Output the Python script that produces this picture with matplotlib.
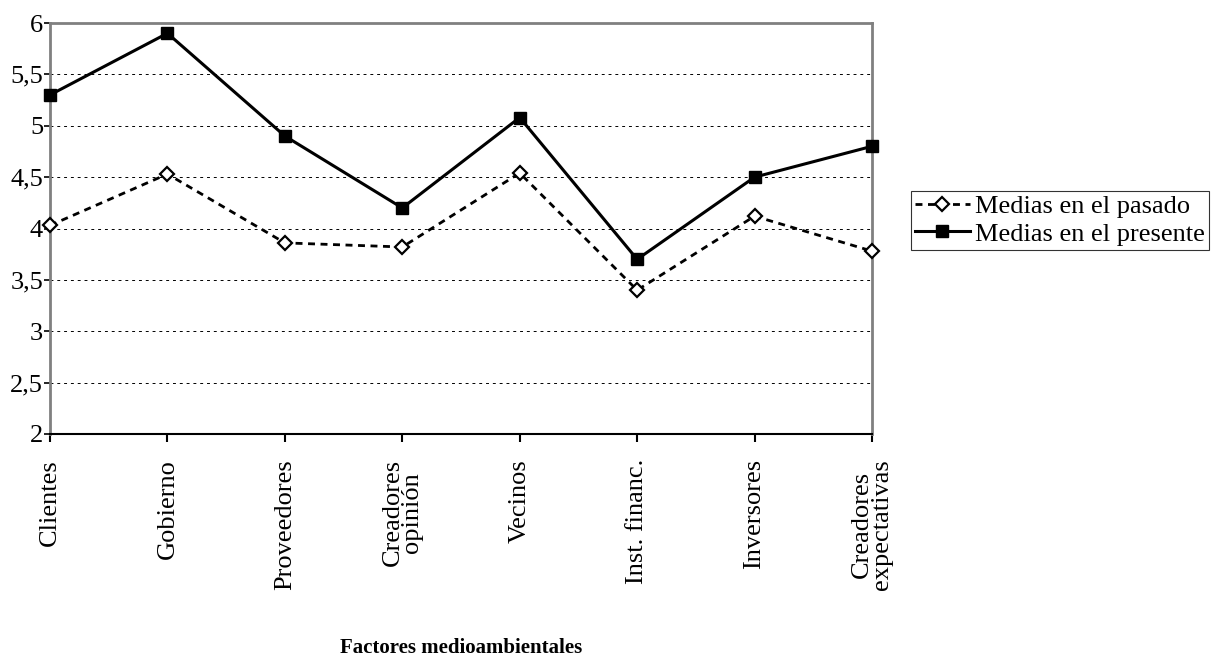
import matplotlib
matplotlib.use("Agg")
import matplotlib.pyplot as plt

# Datos
categorias = ['Clientes', 'Gobierno', 'Proveedores', 'Creadores\nopinión', 'Vecinos',
              'Inst. financ.', 'Inversores', 'Creadores\nexpectativas']
medias_pasado = [4.03, 4.53, 3.86, 3.82, 4.54, 3.40, 4.12, 3.78]
medias_presente = [5.30, 5.90, 4.90, 4.20, 5.08, 3.70, 4.50, 4.80]
y_ticks = [2, 2.5, 3, 3.5, 4, 4.5, 5, 5.5, 6]
y_labels = ['2', '2,5', '3', '3,5', '4', '4,5', '5', '5,5', '6']

plt.rcParams['font.family'] = ['Liberation Serif', 'DejaVu Serif']

fig = plt.figure(figsize=(12.29, 6.6), dpi=100)
ax = fig.add_axes([50/1229, 1 - 434/660, 822/1229, 411/660])

x = list(range(len(categorias)))
ax.plot(x, medias_pasado, color='black', linestyle=(0, (2.5, 2)), linewidth=2,
        marker='D', markersize=7, markerfacecolor='white', markeredgecolor='black',
        markeredgewidth=1.6, label='Medias en el pasado', clip_on=False, zorder=3)
ax.plot(x, medias_presente, color='black', linestyle='-', linewidth=2.2,
        marker='s', markersize=8, label='Medias en el presente', clip_on=False, zorder=4)

ax.set_xlim(0, len(categorias) - 1)
ax.set_ylim(2, 6)
ax.set_yticks(y_ticks)
ax.set_yticklabels(y_labels, fontsize=19)
ax.set_xticks(x)
ax.set_xticklabels(categorias, rotation=90, fontsize=19, linespacing=0.85)

for yv in y_ticks[1:-1]:
    ax.axhline(yv, color='black', linestyle=(0, (3, 4)), linewidth=0.7, zorder=1)

for s in ['top', 'right', 'left']:
    ax.spines[s].set_color('#808080')
    ax.spines[s].set_linewidth(2)
ax.spines['bottom'].set_color('black')
ax.spines['bottom'].set_linewidth(1.5)
ax.tick_params(axis='x', direction='out', length=6, width=1.5, pad=12)
ax.tick_params(axis='y', direction='out', length=4, width=1.2, pad=1)

ax.set_xlabel('Factores medioambientales', fontsize=15, fontweight='bold', labelpad=35)

leg = ax.legend(loc='center left', bbox_to_anchor=(1.047, 0.52), fontsize=19,
                frameon=True, fancybox=False, edgecolor='black', borderpad=0.15,
                handlelength=2.1, handletextpad=0.2, labelspacing=0.15, borderaxespad=0)
leg.get_frame().set_linewidth(0.8)

fig.savefig('out.png', dpi=100)
